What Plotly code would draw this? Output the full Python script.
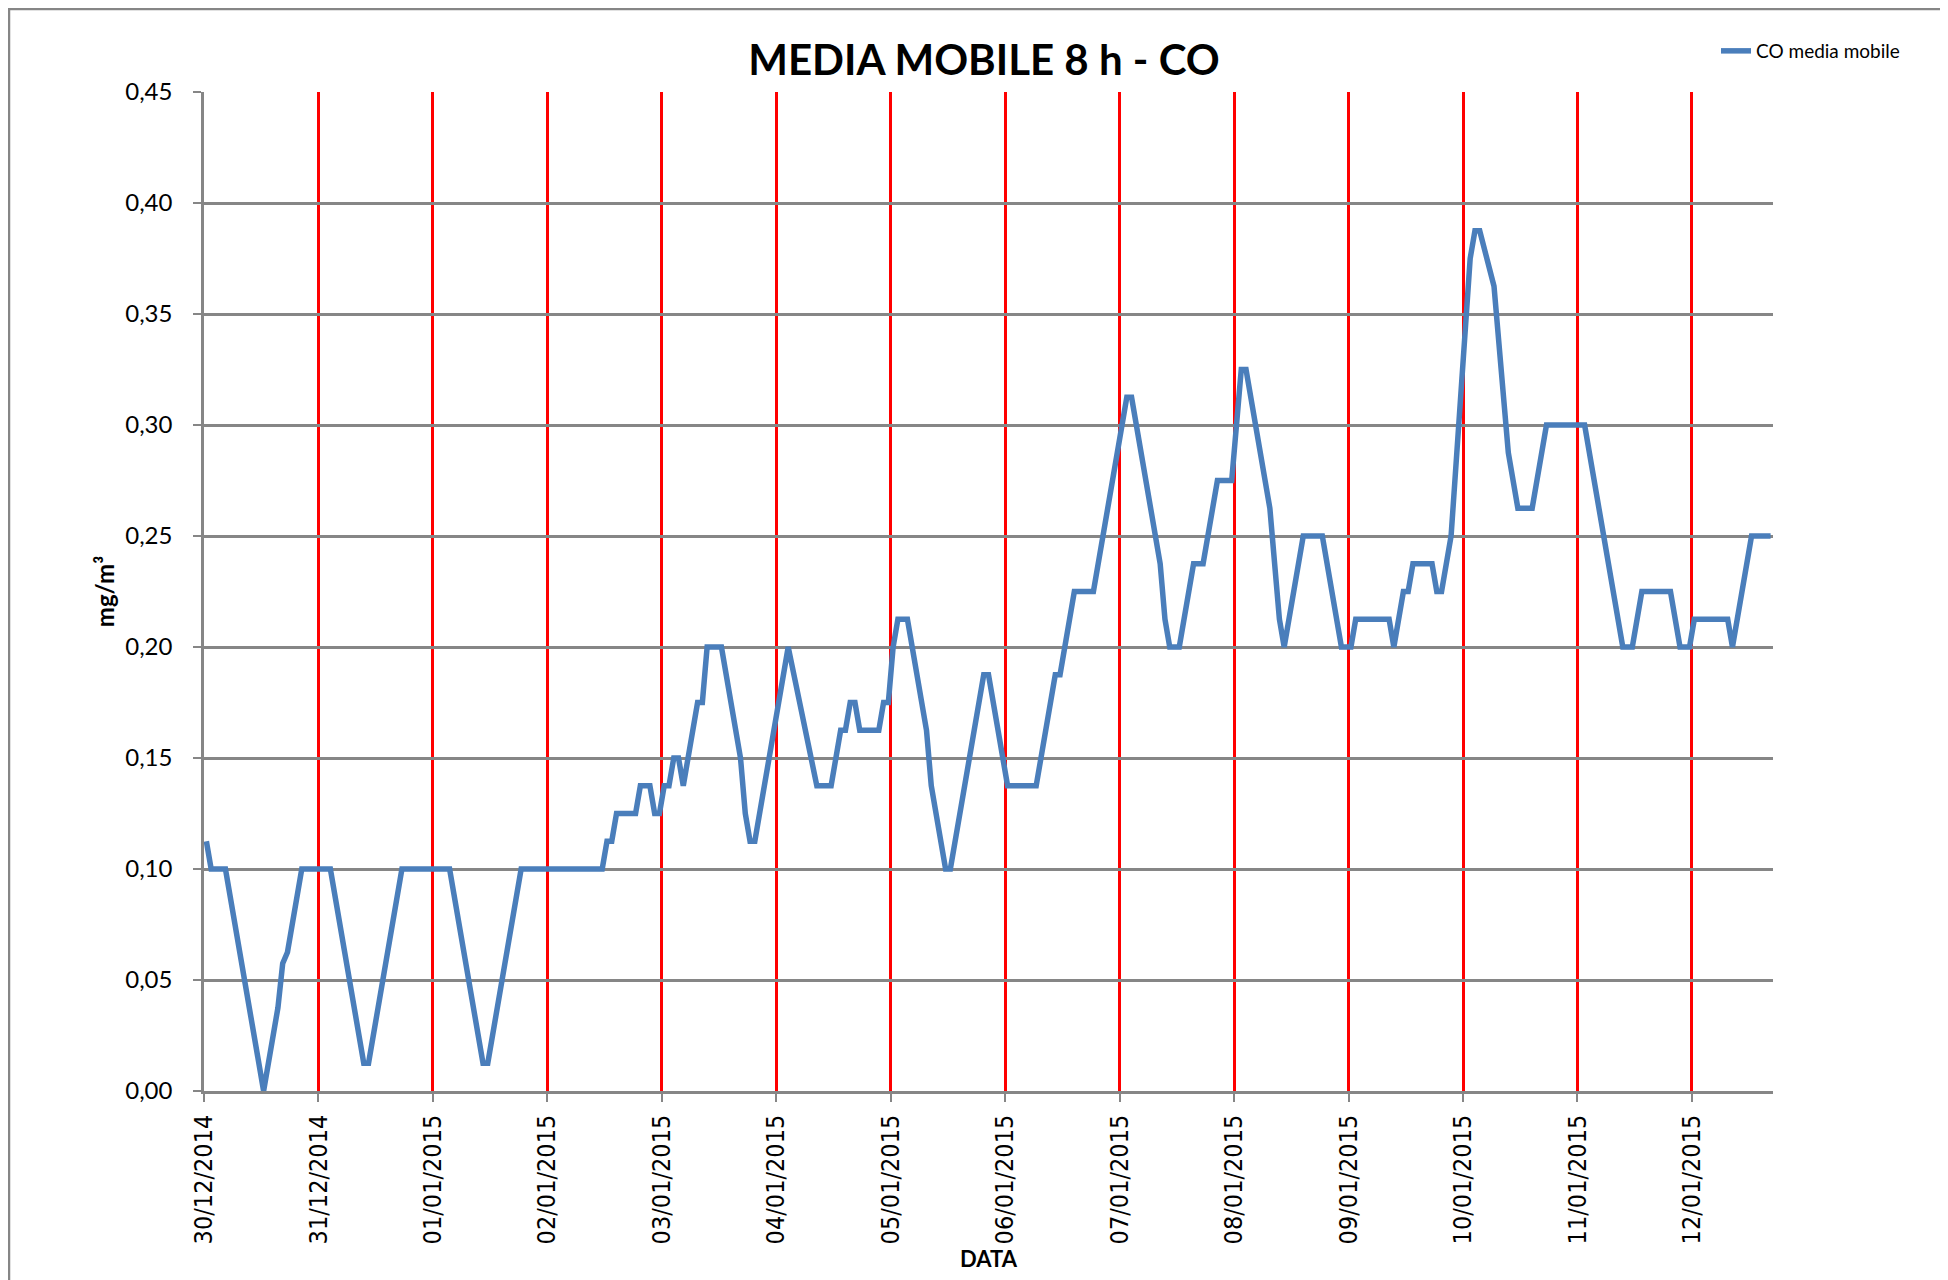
import plotly.graph_objects as go
import pandas as pd

# Hours elapsed since the first reading (30/12/2014 00:30) and 8h moving average CO (mg/m3)
hours = [0, 1, 4, 12, 15, 16, 17, 20, 26, 28, 29, 33, 34, 41, 51, 58, 59, 66, 83, 84,
         85, 86, 90, 91, 93, 94, 95, 96, 97, 98, 99, 100, 103, 104, 105, 108, 112, 113,
         114, 115, 122, 128, 131, 133, 134, 135, 136, 137, 141, 142, 143, 144, 145, 147,
         151, 152, 155, 156, 163, 164, 168, 174, 178, 179, 182, 186, 193, 194, 200, 201,
         202, 204, 207, 209, 212, 215, 217, 218, 223, 225, 226, 230, 234, 238, 240, 241,
         248, 249, 251, 252, 253, 257, 258, 259, 261, 265, 266, 267, 270, 273, 275, 278,
         281, 289, 297, 299, 301, 307, 309, 311, 312, 319, 320, 324, 328]
values = [0.1125, 0.1, 0.1, 0.0, 0.0375, 0.0575, 0.0625, 0.1, 0.1, 0.0725, 0.0625, 0.0125,
          0.0125, 0.1, 0.1, 0.0125, 0.0125, 0.1, 0.1, 0.1125,
          0.1125, 0.125, 0.125, 0.1375, 0.1375, 0.125, 0.125, 0.1375, 0.1375, 0.15, 0.15,
          0.1375, 0.175, 0.175, 0.2, 0.2, 0.15, 0.125,
          0.1125, 0.1125, 0.2, 0.1375, 0.1375, 0.1625, 0.1625, 0.175, 0.175, 0.1625, 0.1625,
          0.175, 0.175, 0.2, 0.2125, 0.2125,
          0.1625, 0.1375, 0.1, 0.1, 0.1875, 0.1875, 0.1375, 0.1375, 0.1875, 0.1875, 0.225,
          0.225, 0.3125, 0.3125, 0.2375, 0.2125,
          0.2, 0.2, 0.2375, 0.2375, 0.275, 0.275, 0.325, 0.325, 0.2625, 0.2125, 0.2, 0.25,
          0.25, 0.2, 0.2, 0.2125,
          0.2125, 0.2, 0.225, 0.225, 0.2375, 0.2375, 0.225, 0.225, 0.25, 0.375, 0.3875,
          0.3875, 0.3625, 0.2875, 0.2625, 0.2625,
          0.3, 0.3, 0.2, 0.2, 0.225, 0.225, 0.2, 0.2, 0.2125, 0.2125, 0.2, 0.25, 0.25]

start = pd.Timestamp("2014-12-30 00:30")
times = [start + pd.Timedelta(hours=h) for h in hours]

OFF = 8  # page body margin
W, H = 1948 - OFF, 1280 - OFF
L, R, T, B = 204 - OFF, 1773 - OFF, 92 - OFF, 1091 - OFF  # plot area in figure pixels

fig = go.Figure()
fig.add_trace(go.Scatter(
    x=times, y=values, mode="lines", name="CO media mobile",
    line=dict(color="#4A7EBB", width=5.5),
))

gray = "#868686"
fig.update_layout(
    width=W, height=H,
    margin=dict(l=L, r=W - R, t=T, b=H - B, pad=0, autoexpand=False),
    paper_bgcolor="white", plot_bgcolor="white",
    separators=", ",
    font=dict(family="Lato, sans-serif", color="black"),
    title=dict(text="<b>MEDIA MOBILE 8 h - CO</b>", x=(984 - OFF) / W, xref="container", xanchor="center",
               y=1 - (60 - OFF) / H, yref="container", yanchor="middle",
               font=dict(family="Lato, sans-serif", size=42, color="black")),
    showlegend=True,
    legend=dict(x=(1716 - OFF - L) / (R - L), y=1 - (51 - OFF - T) / (B - T), xanchor="left", yanchor="middle",
                font=dict(family="Lato, sans-serif", size=19, color="black"),
                bgcolor="rgba(0,0,0,0)", borderwidth=0),
    xaxis=dict(
        type="date", automargin=False,
        range=["2014-12-30 00:00", "2015-01-12 17:00"],
        tick0="2014-12-30", dtick=86400000, tickformat="%d/%m/%Y", tickangle=-90,
        tickfont=dict(family="DejaVu Sans Condensed, DejaVu Sans", size=25, color="black"),
        showgrid=True, gridcolor="#FF0000", gridwidth=2.5,
        showline=True, linecolor=gray, linewidth=2.5,
        ticks="outside", ticklen=8, tickwidth=2, tickcolor=gray,
        ticklabelstandoff=3,
        title=dict(text="<b>DATA</b>", font=dict(family="Lato, sans-serif", size=22, color="black"),
                   standoff=9),
        zeroline=False,
    ),
    yaxis=dict(
        automargin=False,
        range=[0, 0.45], dtick=0.05, tick0=0, tickformat=".2f",
        tickfont=dict(family="Lato, sans-serif", size=24, color="black"),
        showgrid=True, gridcolor=gray, gridwidth=2.5,
        showline=True, linecolor=gray, linewidth=2.5,
        ticks="outside", ticklen=8, tickwidth=2, tickcolor=gray,
        ticklabelstandoff=16,
        title=dict(text="<b>mg/m³</b>", font=dict(family="Lato, sans-serif", size=24, color="black"),
                   standoff=4),
        zeroline=False,
    ),
)

# outer chart-area border (top and left edges visible)
fig.add_shape(type="rect", xref="paper", yref="paper",
              x0=(9 - OFF - L) / (R - L), x1=(W + 50 - L) / (R - L),
              y0=1 - (H + 50 - T) / (B - T), y1=1 - (9 - OFF - T) / (B - T),
              line=dict(color=gray, width=2.5), fillcolor="rgba(0,0,0,0)", layer="below")

fig.write_html("out.html")
